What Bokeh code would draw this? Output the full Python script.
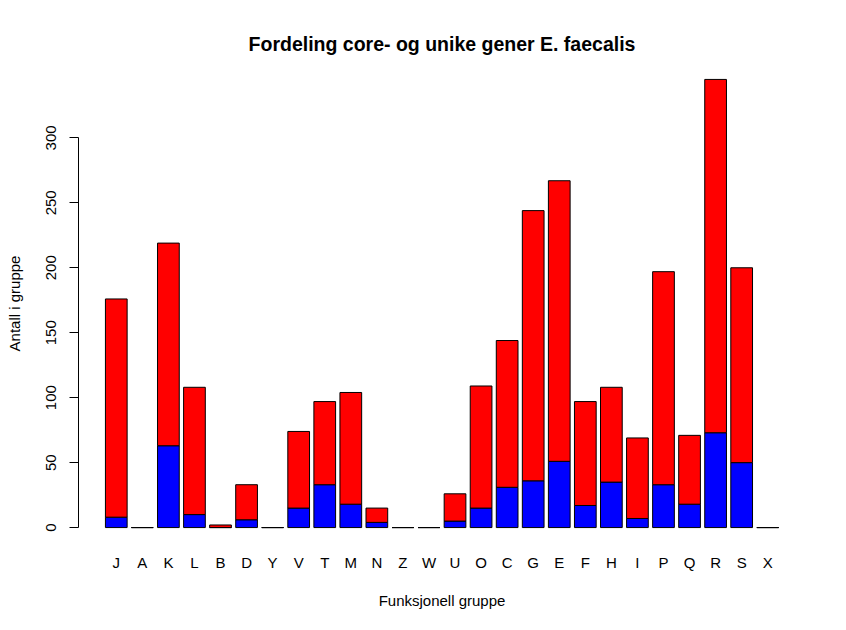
from bokeh.plotting import figure
from bokeh.models import Range1d, FixedTicker, ColumnDataSource
from bokeh.embed import file_html
from bokeh.resources import INLINE

categories = ["J", "A", "K", "L", "B", "D", "Y", "V", "T", "M", "N", "Z", "W",
              "U", "O", "C", "G", "E", "F", "H", "I", "P", "Q", "R", "S", "X"]
core = [8, 0, 63, 10, 0, 6, 0, 15, 33, 18, 4, 0, 0,
        5, 15, 31, 36, 51, 17, 35, 7, 33, 18, 73, 50, 0]
total = [176, 0, 219, 108, 2, 33, 0, 74, 97, 104, 15, 0, 0,
         26, 109, 144, 244, 267, 97, 108, 69, 197, 71, 345, 200, 0]
y_ticks = [0, 50, 100, 150, 200, 250, 300]

FONT = "Liberation Sans"

xs = list(range(len(categories)))
src = ColumnDataSource(dict(x=xs, core=core, total=total, zero=[0] * len(xs)))

ymax = max(total)
p = figure(width=846, height=630, output_backend="svg", toolbar_location=None,
           x_range=Range1d(-1.45, len(categories) + 0.45),
           y_range=Range1d(-0.04 * ymax, 1.04 * ymax),
           min_border_left=78, min_border_right=41, min_border_top=61, min_border_bottom=85)

p.title.text = "Fordeling core- og unike gener E. faecalis"
p.title.text_font = FONT
p.title.text_font_size = "19.5px"
p.title.text_font_style = "bold"
p.title.align = "center"
p.title.text_color = "black"
p.title.standoff = 13

p.outline_line_color = None
p.xgrid.visible = False
p.ygrid.visible = False
p.background_fill_color = "white"
p.border_fill_color = "white"

w = 1 / 1.2
p.vbar(x="x", bottom="zero", top="core", width=w, source=src,
       fill_color="#0000FF", line_color="black", line_width=1)
p.vbar(x="x", bottom="core", top="total", width=w, source=src,
       fill_color="#FF0000", line_color="black", line_width=1)

# x axis: labels only
xa = p.xaxis[0]
xa.ticker = FixedTicker(ticks=xs)
xa.major_label_overrides = {i: c for i, c in enumerate(categories)}
xa.axis_line_color = None
xa.major_tick_line_color = None
xa.minor_tick_line_color = None
xa.major_tick_out = 0
xa.major_label_standoff = 8
xa.major_label_text_font = FONT
xa.major_label_text_font_size = "15px"
xa.major_label_text_color = "black"
xa.axis_label = "Funksjonell gruppe"
xa.axis_label_text_font = FONT
xa.axis_label_text_font_size = "15px"
xa.axis_label_text_font_style = "normal"
xa.axis_label_text_color = "black"
xa.axis_label_standoff = 18

ya = p.yaxis[0]
ya.ticker = FixedTicker(ticks=y_ticks)
ya.bounds = (y_ticks[0], y_ticks[-1])
ya.minor_tick_line_color = None
ya.major_tick_out = 9
ya.major_tick_in = 0
ya.axis_line_color = "black"
ya.major_tick_line_color = "black"
ya.major_label_orientation = "vertical"
ya.major_label_standoff = 13
ya.major_label_text_font = FONT
ya.major_label_text_font_size = "15px"
ya.major_label_text_color = "black"
ya.axis_label = "Antall i gruppe"
ya.axis_label_text_font = FONT
ya.axis_label_text_font_size = "15px"
ya.axis_label_text_font_style = "normal"
ya.axis_label_text_color = "black"
ya.axis_label_standoff = 21

open("out.html", "w").write(file_html(p, INLINE))
